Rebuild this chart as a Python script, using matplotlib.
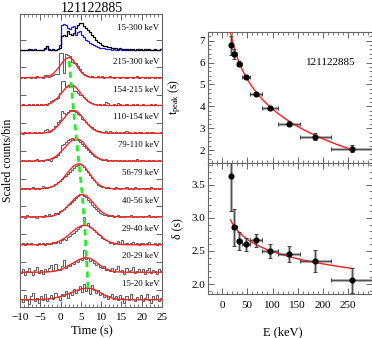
import numpy as np
import matplotlib
matplotlib.use("Agg")
import matplotlib.pyplot as plt
from matplotlib.ticker import MultipleLocator, FixedLocator, NullFormatter

plt.rcParams['font.family'] = ['Liberation Serif', 'DejaVu Serif']
plt.rcParams['mathtext.fontset'] = 'custom'
plt.rcParams['mathtext.rm'] = 'Liberation Serif'
plt.rcParams['mathtext.it'] = 'Liberation Serif:italic'

# ---------------- data ----------------
grb_name = "121122885"
band_labels = ['15-20 keV', '20-29 keV', '29-40 keV', '40-56 keV', '56-79 keV',
               '79-110 keV', '110-154 keV', '154-215 keV', '215-300 keV']
total_label = '15-300 keV'

t_start = -10.0
bin_width = 0.5

# light curves (scaled, percent of strip), 0.5 s bins from -10 s, bottom band first
lc_15_20 = [8, -4, 22, 2, -12, 16, 30, 0, 10, -6,
            18, 4, 26, -2, 12, 20, 6, 28, 14, 2,
            24, 16, 34, 12, 30, 22, 44, 28, 38, 54,
            32, 60, 36, 48, 26, 56, 40, 30, 38, 20,
            28, 14, 22, 8, 18, 26, 6, 16, 2, 20,
            10, -6, 18, 4, 24, 8, -2, 14, 6, 22,
            0, 12, 26, 4, -8, 16, 6, 20, -2, 10]
lc_20_29 = [2, 14, -6, 8, 18, 4, -8, 10, 22, 0,
            12, -4, 16, 6, 20, 30, 8, 34, 14, 10,
            24, 48, 18, 30, 26, 38, 32, 44, 40, 52,
            46, 82, 50, 56, 44, 48, 36, 30, 34, 22,
            18, 26, 10, 16, 8, 20, 4, 14, 24, 6,
            12, -2, 18, 6, 10, 22, 0, 8, 16, 4,
            14, -4, 10, 20, 2, 12, 6, -2, 16, 8]
lc_29_40 = [5, 9, 2, 7, 4, 10, 3, 6, 0, 8,
            4, 7, 2, 9, 5, 3, 11, 8, 14, 10,
            18, 22, 20, 30, 34, 40, 46, 52, 60, 66,
            72, 100, 74, 80, 66, 64, 56, 48, 40, 36,
            28, 22, 18, 16, 10, 12, 6, 9, 14, 4,
            18, 6, 10, 3, 8, 12, 5, 9, 2, 7,
            10, 4, 8, 12, 3, 6, 9, 2, 7, 5]
lc_40_56 = [2, 6, -3, 8, 4, 0, 7, 3, -2, 5,
            6, 2, 9, 4, 12, 6, 10, 16, 14, 22,
            26, 30, 36, 44, 50, 56, 64, 70, 76, 84,
            86, 78, 74, 62, 56, 46, 36, 30, 22, 16,
            12, 8, 10, 6, 4, 8, 2, 6, 9, 3,
            5, 1, 7, 4, 8, 2, 6, 3, 7, 4,
            2, 6, 4, 8, 3, 5, 1, 6, 4, 7]
lc_56_79 = [4, 7, 3, 5, 2, 6, 9, 4, 6, 3,
            5, 12, 8, 6, 10, 14, 12, 20, 26, 30,
            38, 44, 50, 56, 64, 72, 78, 86, 90, 92,
            88, 82, 70, 62, 52, 42, 34, 26, 18, 14,
            10, 8, 6, 9, 5, 7, 4, 8, 6, 3,
            7, 5, 10, 4, 6, 3, 8, 5, 4, 7,
            5, 3, 6, 4, 8, 5, 3, 6, 4, 5]
lc_79_110 = [3, 6, 2, 5, 8, 4, 3, 6, 9, 4,
             6, 3, 8, 12, 7, 5, 14, 18, 24, 34,
             62, 64, 72, 80, 84, 86, 80, 84, 78, 72,
             66, 58, 50, 44, 36, 28, 22, 18, 14, 10,
             8, 6, 9, 5, 7, 4, 8, 6, 3, 7,
             5, 8, 4, 6, 3, 7, 5, 9, 4, 6,
             7, 3, 5, 8, 4, 6, 3, 5, 7, 4]
lc_110_154 = [4, 2, 6, 3, 8, 5, 3, 7, 4, 6,
              5, 9, 14, 18, 8, 12, 20, 30, 42, 52,
              84, 76, 74, 80, 86, 82, 84, 78, 72, 68,
              56, 50, 42, 36, 30, 24, 18, 15, 12, 10,
              8, 6, 10, 5, 12, 8, 4, 7, 5, 9,
              4, 6, 12, 8, 5, 3, 7, 4, 6, 8,
              3, 5, 7, 4, 6, 9, 3, 5, 4, 6]
lc_154_215 = [5, 8, 3, 6, 10, 4, 7, 3, 9, 5,
              8, 4, 10, 6, 12, 18, 22, 28, 30, 48,
              92, 90, 70, 72, 68, 74, 56, 54, 48, 42,
              40, 32, 26, 20, 14, 12, 8, 10, 6, 9,
              5, 8, 14, 12, 6, 4, 7, 3, 12, 10,
              6, 5, 8, 3, 6, 10, 4, 7, 5, 3,
              8, 4, 6, 3, 9, 5, 7, 4, 6, 3]
lc_215_300 = [3, 5, 2, 6, 4, 2, 5, 3, 8, 4,
              6, 3, 14, 12, 5, 8, 12, 16, 18, 90,
              92, 20, 88, 85, 80, 58, 56, 55, 45, 35,
              25, 18, 12, 8, 6, 9, 4, 7, 10, 5,
              8, 3, 6, 4, 9, 5, 2, 6, 4, 3,
              5, 7, 3, 4, 6, 2, 5, 8, 3, 4,
              6, 3, 5, 2, 7, 4, 3, 6, 2, 5]
lc_total_black = [2, 4, 1, 3, 5, 2, 4, 6, 3, 2,
                  4, 3, 8, 18, 6, 3, 5, 4, 7, 10,
                  52, 56, 54, 72, 60, 56, 62, 80, 94, 98,
                  98, 90, 82, 74, 68, 58, 48, 38, 32, 26,
                  22, 18, 16, 14, 12, 10, 9, 10, 7, 8,
                  6, 5, 7, 4, 6, 5, 3, 6, 4, 5,
                  3, 5, 4, 6, 3, 4, 5, 3, 4, 5]
lc_total_blue = [3, 1, 4, 2, 3, 5, 2, 1, 4, 3,
                 2, 4, 6, 16, 3, 2, 4, 3, 6, 22,
                 94, 96, 92, 80, 78, 84, 90, 56, 66, 70,
                 58, 50, 40, 34, 28, 24, 20, 16, 12, 10,
                 8, 9, 6, 5, 7, 4, 6, 3, 4, 5,
                 3, 4, 2, 5, 3, 4, 2, 3, 5, 2,
                 4, 3, 5, 2, 4, 3, 2, 4, 3, 5]
band_lcs = [lc_15_20, lc_20_29, lc_29_40, lc_40_56, lc_56_79,
            lc_79_110, lc_110_154, lc_154_215, lc_215_300]

# pulse-model parameters per band (bottom band first)
pulse_amp = [0.42, 0.52, 0.70, 0.80, 0.90, 0.80, 0.82, 0.74, 0.72]
pulse_rise = [4.3, 3.5, 3.4, 3.0, 3.0, 2.9, 2.6, 2.4, 2.2]
pulse_decay = [3.0, 2.8, 3.1, 2.8, 2.6, 2.7, 2.6, 2.3, 1.9]
pulse_base = [0.04, 0.03, 0.02, 0.02, 0.03, 0.03, 0.03, 0.03, 0.03]

# right panels
energy = [17.5, 24.5, 34.5, 48.0, 67.5, 94.5, 132.0, 184.5, 257.5]
energy_halfwidth = [2.5, 4.5, 5.5, 8.0, 11.5, 15.5, 22.0, 30.5, 42.5]
t_peak = [6.78, 6.38, 5.95, 5.35, 4.55, 3.92, 3.20, 2.62, 2.07]
t_peak_err = [0.45, 0.22, 0.12, 0.10, 0.10, 0.10, 0.12, 0.15, 0.15]
delta = [3.63, 2.86, 2.65, 2.60, 2.66, 2.50, 2.45, 2.35, 2.06]
delta_err = [0.52, 0.28, 0.14, 0.10, 0.10, 0.10, 0.12, 0.17, 0.19]

# fitted relations x = A - B ln(E)
tfit_A, tfit_B, tfit_E = 12.95, 1.97, (15.0, 258.0)
dfit_A, dfit_B, dfit_E = 3.73, 0.269, (17.0, 257.0)

# ---------------- figure ----------------
W, H = 372, 338
fig = plt.figure(figsize=(W / 100, H / 100), dpi=100)

spine_col = '#666666'
def style_axes(ax):
    for s in ax.spines.values():
        s.set_color(spine_col)
        s.set_linewidth(0.8)
    ax.tick_params(which='both', direction='in', top=True, right=True,
                   color=spine_col, labelsize=8, pad=3)
    ax.tick_params(which='major', length=4, width=0.7)
    ax.tick_params(which='minor', length=2, width=0.6)

axL = fig.add_axes([20 / W, 1 - 307 / H, 142 / W, (307 - 14.3) / H])
axT = fig.add_axes([207.7 / W, 1 - 163 / H, (W - 207.7) / W, (163 - 31.7) / H])
axB = fig.add_axes([207.7 / W, 1 - 294 / H, (W - 207.7) / W, (294 - 163) / H])

# ---- left panel ----
tt = np.linspace(-10, 25, 600)
peak_pts_x, peak_pts_y = [], []
for k, lc in enumerate(band_lcs):
    vals = np.array(lc) / 100.0 + k
    edges = t_start + bin_width * np.arange(len(lc) + 1)
    axL.stairs(vals, edges, color='#5a5a5a', lw=0.7, baseline=None, zorder=2)
    tp = t_peak[k]
    sig = np.where(tt < tp, pulse_rise[k], pulse_decay[k])
    model = pulse_base[k] + pulse_amp[k] * np.exp(-0.5 * ((tt - tp) / sig) ** 2)
    axL.plot(tt, model + k, color='#ff2020', lw=1.0, zorder=3)
    peak_pts_x.append(tp)
    peak_pts_y.append(k + pulse_base[k] + pulse_amp[k])
    axL.text(24.3, k + 0.6, band_labels[k], ha='right', va='center', fontsize=6.3)

k_top = len(band_lcs)
edges = t_start + bin_width * np.arange(len(lc_total_black) + 1)
axL.stairs(np.array(lc_total_black) / 100.0 + k_top, edges, color='black',
           lw=0.9, baseline=None, zorder=3)
axL.stairs(np.array(lc_total_blue) / 100.0 + k_top, edges, color='#1a1aff',
           lw=0.9, baseline=None, zorder=2)
axL.text(24.3, k_top + 0.8, total_label, ha='right', va='center', fontsize=6.3)

axL.plot(peak_pts_x, peak_pts_y, color='#22ee22', lw=2.0, ls=(0, (2.2, 1.6)), zorder=5)

axL.set_xlim(-10, 25)
axL.set_ylim(-0.22, 10.31)
style_axes(axL)
axL.xaxis.set_major_locator(MultipleLocator(5))
axL.xaxis.set_minor_locator(MultipleLocator(1))
axL.yaxis.set_major_locator(FixedLocator([k + 0.4 for k in range(10)]))
axL.yaxis.set_major_formatter(NullFormatter())
axL.tick_params(axis='x', pad=4)
axL.set_xlabel('Time (s)', fontsize=9)
axL.xaxis.set_label_coords(0.507, -0.062)
axL.set_ylabel('Scaled counts/bin', fontsize=8.5)
axL.yaxis.set_label_coords(-0.045, 0.5)
fig.text(92 / W, 1 - 8.5 / H, grb_name, ha='center', va='center', fontsize=10)

# ---- right panels ----
def draw_points(ax, y, yerr):
    ax.errorbar(energy, y, xerr=energy_halfwidth, yerr=yerr, fmt='none',
                ecolor='#b0b0b0', elinewidth=2.2, capsize=0, zorder=2)
    ax.errorbar(energy, y, xerr=energy_halfwidth, yerr=yerr, fmt='none',
                ecolor='#404040', elinewidth=0.6, capsize=1.6, capthick=0.7, zorder=3)
    ax.plot(energy, y, 'o', color='black', ms=3.4, zorder=4)

Et = np.linspace(tfit_E[0], tfit_E[1], 300)
axT.plot(Et, tfit_A - tfit_B * np.log(Et), color='#ff1a1a', lw=1.0, zorder=3)
draw_points(axT, t_peak, t_peak_err)
axT.set_xlim(-28.3, 297)
axT.set_ylim(1.41, 7.41)
style_axes(axT)
axT.xaxis.set_major_locator(MultipleLocator(50))
axT.xaxis.set_minor_locator(MultipleLocator(10))
axT.yaxis.set_major_locator(MultipleLocator(1))
axT.yaxis.set_minor_locator(MultipleLocator(0.2))
axT.xaxis.set_major_formatter(NullFormatter())
axT.tick_params(axis='y', pad=2)
axT.set_ylabel(r'$\mathrm{t_{peak}}$ (s)', fontsize=8.5)
axT.yaxis.set_label_coords(-0.15, 0.5)
axT.text(216, 5.98, grb_name, ha='center', va='center', fontsize=8)

Ed = np.linspace(dfit_E[0], dfit_E[1], 300)
axB.plot(Ed, dfit_A - dfit_B * np.log(Ed), color='#ff1a1a', lw=1.0, zorder=3)
draw_points(axB, delta, delta_err)
axB.set_xlim(-28.3, 297)
axB.set_ylim(1.85, 3.83)
style_axes(axB)
axB.xaxis.set_major_locator(MultipleLocator(50))
axB.xaxis.set_minor_locator(MultipleLocator(10))
axB.yaxis.set_major_locator(MultipleLocator(0.5))
axB.yaxis.set_minor_locator(MultipleLocator(0.1))
axB.yaxis.set_major_formatter(plt.FormatStrFormatter('%.1f'))
axB.tick_params(axis='y', pad=2)
axB.tick_params(axis='x', pad=5)
axB.set_ylabel('δ (s)', fontsize=8.5)
axB.yaxis.set_label_coords(-0.15, 0.5)
axB.set_xlabel('E (keV)', fontsize=9)
axB.xaxis.set_label_coords(0.458, -0.25)

fig.savefig('out.png', dpi=100)
